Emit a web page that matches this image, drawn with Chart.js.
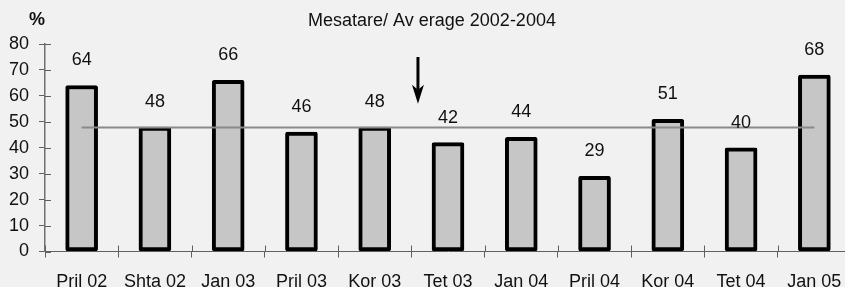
<!DOCTYPE html>
<html>
<head>
<meta charset="utf-8">
<script src="https://cdn.jsdelivr.net/npm/chart.js@4/dist/chart.umd.min.js"></script>
<style>
html,body{margin:0;padding:0;background:#f1f1f1;overflow:hidden;}
#wrap{width:845px;height:287px;position:relative;overflow:hidden;}
canvas{display:block;}
</style>
</head>
<body>
<div id="wrap"><canvas id="c" width="851" height="287"></canvas></div>
<script>
const categories = ["Pril 02","Shta 02","Jan 03","Pril 03","Kor 03","Tet 03","Jan 04","Pril 04","Kor 04","Tet 04","Jan 05"];
const values = [64,48,66,46,48,42,44,29,51,40,68];
const averageValue = 47.8;
const averageLine = categories.map(() => averageValue);
const yTicks = [0,10,20,30,40,50,60,70,80];
const titleText = "Mesatare/ Av erage 2002-2004";
const unitText = "%";
const arrowAt = {x: 4.59, yFrom: 75, yTo: 57};

const FONT = "'Liberation Sans', Arial, sans-serif";
const FS = 18;

const decor = {
  id: 'decor',
  beforeDraw(chart) {
    const ctx = chart.ctx;
    ctx.save();
    ctx.fillStyle = '#f1f1f1';
    ctx.fillRect(0, 0, chart.width, chart.height);
    ctx.restore();
  },
  afterDraw(chart) {
    const ctx = chart.ctx;
    const xs = chart.scales.x, ys = chart.scales.y;
    ctx.save();
    ctx.strokeStyle = '#606060';
    ctx.lineWidth = 1;
    yTicks.forEach(v => {
      const py = Math.round(ys.getPixelForValue(v)) + 0.5;
      ctx.beginPath(); ctx.moveTo(xs.left, py); ctx.lineTo(xs.left + 6, py); ctx.stroke();
    });
    for (let i = 0; i <= categories.length; i++) {
      const px = Math.round(xs.getPixelForValue(i - 0.5)) + 0.5;
      ctx.beginPath(); ctx.moveTo(px, ys.bottom); ctx.lineTo(px, ys.bottom - 6); ctx.stroke();
    }
    ctx.fillStyle = '#111';
    ctx.font = FS + 'px ' + FONT;
    ctx.textAlign = 'center';
    ctx.textBaseline = 'middle';
    const meta = chart.getDatasetMeta(0);
    meta.data.forEach((bar, i) => {
      ctx.fillText(String(values[i]), bar.x, bar.y - 25);
    });
    ctx.fillText(titleText, 432, 21);
    ctx.font = 'bold ' + FS + 'px ' + FONT;
    ctx.fillText(unitText, 37, 20);
    const ax = xs.getPixelForValue(arrowAt.x);
    const y1 = ys.getPixelForValue(arrowAt.yFrom);
    const y2 = ys.getPixelForValue(arrowAt.yTo);
    ctx.strokeStyle = '#000';
    ctx.lineWidth = 3;
    ctx.beginPath(); ctx.moveTo(ax, y1); ctx.lineTo(ax, y2 - 14); ctx.stroke();
    ctx.fillStyle = '#000';
    ctx.beginPath();
    ctx.moveTo(ax - 6, y2 - 19);
    ctx.lineTo(ax, y2);
    ctx.lineTo(ax + 6, y2 - 19);
    ctx.lineTo(ax, y2 - 14);
    ctx.closePath();
    ctx.fill();
    ctx.restore();
  }
};

new Chart(document.getElementById('c'), {
  data: {
    labels: categories,
    datasets: [
      {
        type: 'bar',
        data: values,
        backgroundColor: '#c6c6c6',
        borderColor: '#000',
        borderWidth: 4,
        borderSkipped: false,
        borderRadius: 2,
        barThickness: 32,
        order: 2
      },
      {
        type: 'line',
        data: averageLine,
        borderColor: '#8a8a8a',
        borderWidth: 2,
        pointRadius: 0,
        fill: false,
        order: 1
      }
    ]
  },
  options: {
    responsive: false,
    animation: false,
    layout: {padding: {top: 44, right: 0, left: 0, bottom: 0}},
    plugins: {legend: {display: false}, tooltip: {enabled: false}, title: {display: false}},
    scales: {
      x: {
        grid: {display: true, drawOnChartArea: false, drawTicks: true, tickLength: 6, color: '#606060', offset: true},
        border: {display: true, color: '#606060', width: 1},
        ticks: {color: '#111', font: {family: FONT, size: FS}, padding: 14, maxRotation: 0, autoSkip: false},
        afterFit(s) { s.height = 35.5; s.paddingLeft = 0; s.paddingRight = 0; }
      },
      y: {
        min: 0, max: 80,
        afterBuildTicks(s) { s.ticks = yTicks.map(v => ({value: v})); },
        grid: {display: true, drawOnChartArea: false, drawTicks: true, tickLength: 6, color: '#606060'},
        border: {display: true, color: '#707070', width: 1.5},
        ticks: {color: '#111', font: {family: FONT, size: FS}, padding: 10},
        afterFit(s) { s.width = 45; s.paddingTop = 0; s.paddingBottom = 0; }
      }
    }
  },
  plugins: [decor]
});
</script>
</body>
</html>
